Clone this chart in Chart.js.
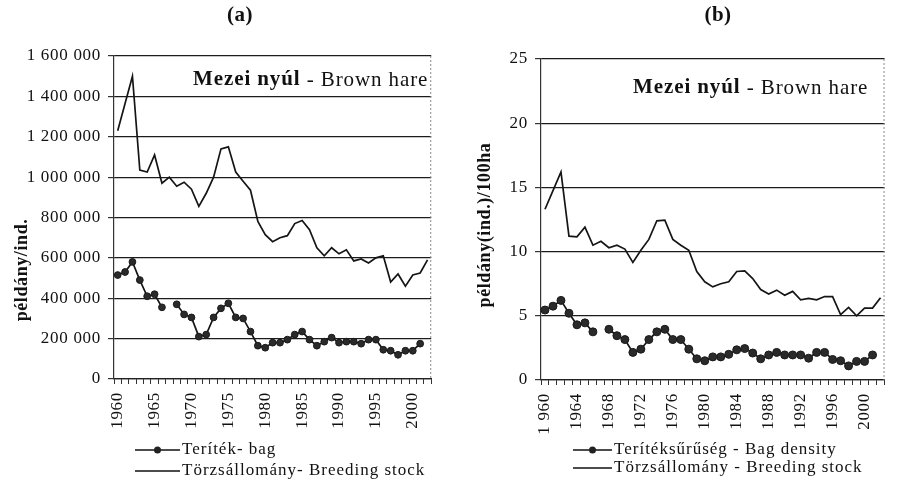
<!DOCTYPE html>
<html>
<head>
<meta charset="utf-8">
<script src="https://cdn.jsdelivr.net/npm/chart.js@4.4.1/dist/chart.umd.min.js"></script>
<style>
  html, body { margin: 0; padding: 0; background: #fff; }
  #wrap { position: relative; width: 909px; height: 481px; overflow: hidden; }
  .panel { position: absolute; top: 0; }
  #panelA { left: 0; width: 456px; height: 481px; }
  #panelB { left: 456px; width: 453px; height: 481px; }
</style>
</head>
<body>
<div id="wrap">
  <div class="panel" id="panelA"><canvas id="chartA" width="456" height="481"></canvas></div>
  <div class="panel" id="panelB"><canvas id="chartB" width="453" height="481"></canvas></div>
</div>
<script>
// years on the x axis (same for both panels)
const years = [1960, 1961, 1962, 1963, 1964, 1965, 1966, 1967, 1968, 1969,
               1970, 1971, 1972, 1973, 1974, 1975, 1976, 1977, 1978, 1979,
               1980, 1981, 1982, 1983, 1984, 1985, 1986, 1987, 1988, 1989,
               1990, 1991, 1992, 1993, 1994, 1995, 1996, 1997, 1998, 1999,
               2000, 2001, 2002];

// (a) individuals
const bagA = [515000, 530000, 580000, 490000, 410000, 420000, 355000, null, 370000, 320000,
              305000, 210000, 220000, 305000, 350000, 375000, 305000, 300000, 235000, 165000,
              155000, 180000, 180000, 195000, 220000, 235000, 195000, 165000, 185000, 205000,
              180000, 185000, 185000, 175000, 195000, 195000, 145000, 140000, 120000, 140000,
              140000, 175000, null];
const stockA = [1230000, 1365000, 1500000, 1035000, 1025000, 1110000, 970000, 1000000, 955000, 975000,
                940000, 855000, 920000, 1000000, 1140000, 1150000, 1025000, 980000, 935000, 780000,
                715000, 680000, 700000, 710000, 770000, 785000, 740000, 650000, 610000, 650000,
                620000, 640000, 585000, 595000, 575000, 600000, 610000, 480000, 520000, 460000,
                515000, 525000, 590000];

// (b) individuals / 100 ha
const bagB = [5.45, 5.75, 6.2, 5.2, 4.3, 4.45, 3.75, null, 3.95, 3.45,
              3.15, 2.15, 2.4, 3.15, 3.75, 3.95, 3.15, 3.15, 2.4, 1.65,
              1.5, 1.8, 1.8, 2.0, 2.35, 2.45, 2.1, 1.65, 1.95, 2.15,
              1.95, 1.95, 1.95, 1.7, 2.15, 2.15, 1.6, 1.5, 1.1, 1.45,
              1.45, 1.95, null];
const stockB = [13.3, 14.75, 16.2, 11.2, 11.15, 11.9, 10.5, 10.8, 10.3, 10.5,
                10.2, 9.15, 10.1, 10.95, 12.4, 12.45, 10.95, 10.5, 10.1, 8.45,
                7.65, 7.25, 7.5, 7.65, 8.45, 8.5, 7.9, 7.05, 6.7, 7.0,
                6.6, 6.9, 6.25, 6.35, 6.25, 6.5, 6.5, 5.1, 5.65, 5.0,
                5.6, 5.6, 6.4];

// tick labels
const yTicksA = ['0', '200 000', '400 000', '600 000', '800 000', '1 000 000', '1 200 000', '1 400 000', '1 600 000'];
const yTicksB = ['0', '5', '10', '15', '20', '25'];
const xTicksA = {1960: '1960', 1965: '1965', 1970: '1970', 1975: '1975', 1980: '1980',
                 1985: '1985', 1990: '1990', 1995: '1995', 2000: '2000'};
const xTicksB = {1960: '1 960', 1964: '1964', 1968: '1968', 1972: '1972', 1976: '1976', 1980: '1980',
                 1984: '1984', 1988: '1988', 1992: '1992', 1996: '1996', 2000: '2000'};

Chart.defaults.font.family = '"Liberation Serif", "Times New Roman", serif';
Chart.defaults.color = '#111';

const SERIF = '"Liberation Serif", "Times New Roman", serif';

// draws panel letter, annotation, y title, plot frame and the legend
function decorPlugin(o) {
    return {
        id: 'decor',
        beforeDraw(chart) {
            chart.ctx.letterSpacing = '0.7px';
        },
        afterDraw(chart) {
            const ctx = chart.ctx;
            const a = chart.chartArea;
            ctx.save();

            // plot frame on the right, grey dotted like the scan
            ctx.strokeStyle = '#8a8a8a';
            ctx.lineWidth = 1;
            ctx.setLineDash([2, 2]);
            ctx.beginPath();
            ctx.moveTo(a.right - 0.5, a.top);
            ctx.lineTo(a.right - 0.5, a.bottom);
            ctx.stroke();
            ctx.setLineDash([]);

            ctx.fillStyle = '#111';
            ctx.textBaseline = 'middle';

            // panel letter
            ctx.letterSpacing = '0.5px';
            ctx.font = 'bold 21px ' + SERIF;
            ctx.textAlign = 'center';
            ctx.fillText(o.letter, o.letterX, 16);

            // annotation: bold part + regular part
            ctx.textAlign = 'left';
            ctx.letterSpacing = '0.9px';
            ctx.font = 'bold 21px ' + SERIF;
            ctx.fillText(o.noteBold, o.noteX, o.noteY);
            const w = ctx.measureText(o.noteBold).width;
            ctx.font = '21px ' + SERIF;
            ctx.fillText(o.noteRest, o.noteX + w, o.noteY);

            // y axis title
            ctx.save();
            ctx.translate(o.yTitleX, o.yTitleY);
            ctx.rotate(-Math.PI / 2);
            ctx.textAlign = 'center';
            ctx.letterSpacing = '0.6px';
            ctx.font = 'bold 18px ' + SERIF;
            ctx.fillText(o.yTitle, 0, 0);
            ctx.restore();

            // legend
            ctx.letterSpacing = '1px';
            ctx.font = '17px ' + SERIF;
            ctx.textAlign = 'left';
            o.legend.forEach((item, i) => {
                const y = o.legendY[i];
                ctx.strokeStyle = '#111';
                ctx.lineWidth = 1.5;
                ctx.beginPath();
                ctx.moveTo(o.legendX0, y);
                ctx.lineTo(o.legendX1, y);
                ctx.stroke();
                if (item.dot) {
                    ctx.fillStyle = '#222';
                    ctx.beginPath();
                    ctx.arc((o.legendX0 + o.legendX1) / 2, y, 3.5, 0, Math.PI * 2);
                    ctx.fill();
                }
                ctx.fillStyle = '#111';
                ctx.fillText(item.text, o.legendX1 + 2, y);
            });

            ctx.restore();
        }
    };
}

function buildChart(canvasId, p) {
    return new Chart(document.getElementById(canvasId), {
        type: 'line',
        data: {
            labels: years,
            datasets: [
                {
                    label: p.legend[0].text,
                    data: p.bag,
                    borderColor: '#151515',
                    borderWidth: 1.7,
                    pointRadius: p.dotR,
                    pointBackgroundColor: '#2a2a2a',
                    pointBorderColor: '#1a1a1a',
                    pointBorderWidth: 1,
                    spanGaps: false,
                    tension: 0
                },
                {
                    label: p.legend[1].text,
                    data: p.stock,
                    borderColor: '#151515',
                    borderWidth: 1.7,
                    pointRadius: 0,
                    tension: 0
                }
            ]
        },
        options: {
            responsive: false,
            animation: false,
            events: [],
            layout: { padding: { left: 0, right: 3, top: p.top, bottom: 0 } },
            plugins: { legend: { display: false }, tooltip: { enabled: false } },
            scales: {
                x: {
                    type: 'category',
                    offset: true,
                    grid: { offset: true, drawOnChartArea: false, drawTicks: true, tickLength: 5, color: '#333', lineWidth: 1 },
                    border: { color: '#222', width: 1.2 },
                    ticks: {
                        autoSkip: false,
                        maxRotation: 90,
                        minRotation: 90,
                        padding: 8,
                        font: { size: 17 },
                        callback: function (value) {
                            const yr = this.getLabelForValue(value);
                            return p.xTicks[yr] || '';
                        }
                    },
                    afterFit(scale) { scale.height = p.xHeight; }
                },
                y: {
                    min: 0,
                    max: p.max,
                    ticks: {
                        stepSize: p.step,
                        padding: 7,
                        font: { size: 17 },
                        callback: (value) => p.yTicks[Math.round(value / p.step)]
                    },
                    grid: { color: '#1c1c1c', lineWidth: 1.2, tickLength: 6, tickColor: '#333' },
                    border: { color: '#333', width: 1.2 },
                    afterFit(scale) { scale.width = p.yWidth; }
                }
            }
        },
        plugins: [decorPlugin(p)]
    });
}

document.addEventListener('DOMContentLoaded', () => {

    // (a) breeding stock and bag, individuals
    buildChart('chartA', {
        bag: bagA, stock: stockA, dotR: 3.4,
        max: 1600000, step: 200000, yTicks: yTicksA, xTicks: xTicksA,
        top: 56, xHeight: 102, yWidth: 114,
        letter: '(a)', letterX: 240,
        noteBold: 'Mezei nyúl', noteRest: ' - Brown hare', noteX: 193, noteY: 80,
        yTitle: 'példány/ind.', yTitleX: 22, yTitleY: 270,
        legend: [{ text: 'Teríték- bag', dot: true }, { text: 'Törzsállomány- Breeding stock', dot: false }],
        legendX0: 135, legendX1: 180, legendY: [450, 471]
    });

    // (b) densities per 100 ha
    buildChart('chartB', {
        bag: bagB, stock: stockB, dotR: 4,
        max: 25, step: 5, yTicks: yTicksB, xTicks: xTicksB,
        top: 59, xHeight: 101, yWidth: 85,
        letter: '(b)', letterX: 262,
        noteBold: 'Mezei nyúl', noteRest: ' - Brown hare', noteX: 177, noteY: 88,
        yTitle: 'példány(ind.)/100ha', yTitleX: 29, yTitleY: 225,
        legend: [{ text: 'Terítéksűrűség - Bag density', dot: true }, { text: 'Törzsállomány - Breeding stock', dot: false }],
        legendX0: 117, legendX1: 156, legendY: [450, 468]
    });
});
</script>
</body>
</html>
